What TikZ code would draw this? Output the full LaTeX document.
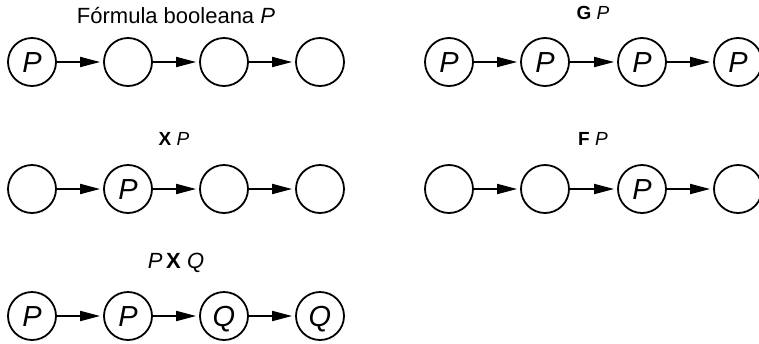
\documentclass[tikz,border=0pt]{standalone}
\usepackage{fontspec}
\setmainfont{Liberation Sans}
\usetikzlibrary{arrows.meta}

\tikzset{
  estado/.style={draw, circle, line width=1.8pt, minimum size=48pt, inner sep=0pt,
    text height=21pt, text depth=0pt, font=\fontsize{29}{32}\selectfont\itshape},
  flecha/.style={line width=1.8pt, -{Triangle[length=20pt,width=10pt]}, shorten >=3pt},
  titulo/.style={anchor=base, font=\fontsize{19}{22}\selectfont},
  titulogrande/.style={anchor=base, font=\fontsize{22}{26}\selectfont},
}

\begin{document}
\begin{tikzpicture}[x=1pt, y=-1pt]
	\useasboundingbox (0,0) rectangle (759,343);

	% booleana
	\node[titulogrande] (tb) at (176,23) {Fórmula booleana \textit{P}};
	\node[estado] (b1) at (32,62) {P};
	\node[estado] (b2) at (128,62) {};
	\node[estado] (b3) at (224,62) {};
	\node[estado] (b4) at (320,62) {};
	\draw[flecha] (b1) -- (b2);
	\draw[flecha] (b2) -- (b3);
	\draw[flecha] (b3) -- (b4);

	% G P
	\node[titulo] (tg) at (593,19) {\textbf{G} \textit{P}};
	\node[estado] (g1) at (449,62) {P};
	\node[estado] (g2) at (545,62) {P};
	\node[estado] (g3) at (642,62) {P};
	\node[estado] (g4) at (738,62) {P};
	\draw[flecha] (g1) -- (g2);
	\draw[flecha] (g2) -- (g3);
	\draw[flecha] (g3) -- (g4);

	% X P
	\node[titulo] (tx) at (174,145) {\textbf{X} \textit{P}};
	\node[estado] (x1) at (32,189) {};
	\node[estado] (x2) at (128,189) {P};
	\node[estado] (x3) at (224,189) {};
	\node[estado] (x4) at (320,189) {};
	\draw[flecha] (x1) -- (x2);
	\draw[flecha] (x2) -- (x3);
	\draw[flecha] (x3) -- (x4);

	% F P
	\node[titulo] (tf) at (593,145) {\textbf{F} \textit{P}};
	\node[estado] (f1) at (449,189) {};
	\node[estado] (f2) at (545,189) {};
	\node[estado] (f3) at (642,189) {P};
	\node[estado] (f4) at (738,189) {};
	\draw[flecha] (f1) -- (f2);
	\draw[flecha] (f2) -- (f3);
	\draw[flecha] (f3) -- (f4);

	% P X Q
	\node[titulogrande] (tu) at (176,268) {\textit{P}\,\textbf{X} \textit{Q}};
	\node[estado] (u1) at (32,316) {P};
	\node[estado] (u2) at (128,316) {P};
	\node[estado] (u3) at (224,316) {Q};
	\node[estado] (u4) at (320,316) {Q};
	\draw[flecha] (u1) -- (u2);
	\draw[flecha] (u2) -- (u3);
	\draw[flecha] (u3) -- (u4);
\end{tikzpicture}
\end{document}
